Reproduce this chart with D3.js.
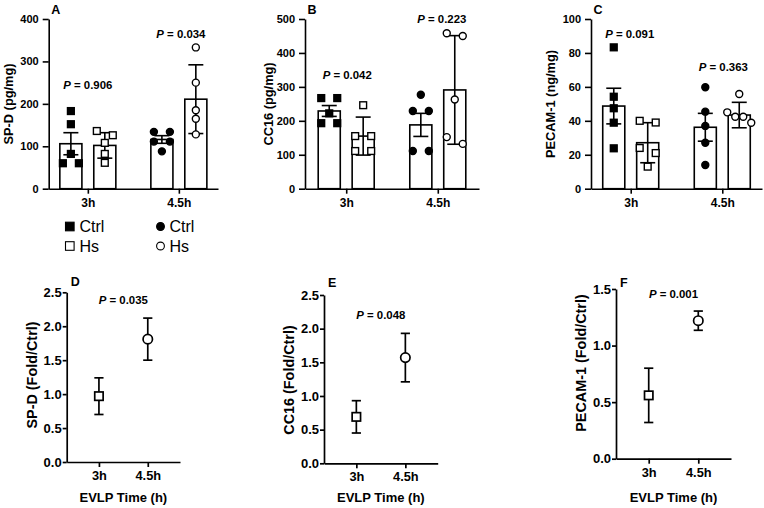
<!DOCTYPE html>
<html>
<head>
<meta charset="utf-8">
<script src="https://cdn.jsdelivr.net/npm/d3@7"></script>
<style>
  body { margin: 0; background: #fff; }
  svg { font-family: "Liberation Sans", Arial, sans-serif; font-weight: bold; }
</style>
</head>
<body>
<svg id="chart" width="764" height="508"></svg>
<script>
// ---- data ----
var groups = ["3h", "4.5h"];
var treatments = ["Ctrl", "Hs"];

// A: SP-D (pg/mg)  -- points per group, bar means, error bars
var spdCtrl = [[183, 152, 82, 60, 60], [134, 134, 111, 111, 88]];
var spdHs = [[136, 126, 108, 82, 61], [333, 250, 185, 165, 128]];
var spdCtrlMean = [106, 116], spdHsMean = [102, 211];
var spdCtrlErr = [26, 9], spdHsErr = [30, 81];
var spdP = ["0.906", "0.034"];

// B: CC16 (pg/mg)
var cc16Ctrl = [[267, 267, 222, 193, 193], [277, 229, 229, 111, 111]];
var cc16Hs = [[246, 155, 155, 111, 111], [458, 450, 263, 152, 132]];
var cc16CtrlMean = [229, 188], cc16HsMean = [155, 291];
var cc16CtrlErr = [16, 34], cc16HsErr = [56, 160];
var cc16P = ["0.042", "0.223"];

// C: PECAM-1 (ng/mg)
var pecamCtrl = [[83.3, 54.2, 47.4, 38.9, 23.8], [59.8, 45.4, 37, 27.1, 14]];
var pecamHs = [[40, 39, 24, 21, 13], [55.8, 45, 42.4, 42.4, 38.9]];
var pecamCtrlMean = [48.7, 36.2], pecamHsMean = [27.1, 43.4];
var pecamCtrlErr = [10.5, 8.2], pecamHsErr = [11.8, 7.5];
var pecamP = ["0.091", "0.363"];

// D-F: fold change (Hs / Ctrl)
var spdFold = [0.97, 1.81], spdFoldErr = [0.27, 0.31], spdFoldP = "0.035";
var cc16Fold = [0.69, 1.57], cc16FoldErr = [0.24, 0.36], cc16FoldP = "0.048";
var pecamFold = [0.56, 1.22], pecamFoldErr = [0.24, 0.085], pecamFoldP = "0.001";

var legendLabels = ["Ctrl", "Hs"];

// ---- drawing ----
var svg = d3.select("#chart");
var ink = "#000";

function pLabel(g, x, y, p) {
  var t = g.append("text")
      .attr("x", x).attr("y", y)
      .attr("text-anchor", "middle")
      .style("font-size", "11.4px")
      .attr("fill", ink);
  t.append("tspan").style("font-style", "italic").text("P");
  t.append("tspan").text(" = " + p);
}

// spread points that sit on top of each other (like Prism scatter)
function swarm(vals, y, d) {
  var s = vals.map(function (v) { return { v: v, py: y(v) }; })
      .sort(function (a, b) { return a.py - b.py; });
  var clusters = [], cur = [];
  s.forEach(function (o, i) {
    if (i > 0 && o.py - s[i - 1].py >= d) { clusters.push(cur); cur = []; }
    cur.push(o);
  });
  clusters.push(cur);
  var out = [];
  clusters.forEach(function (c) {
    var k = c.length, sp = k > 1 ? Math.min(16, 24 / (k - 1)) : 0;
    c.forEach(function (o, j) { out.push({ v: o.v, py: o.py, dx: (j - (k - 1) / 2) * sp }); });
  });
  return out;
}

function drawBarPanel(p) {
  var g = svg.append("g");
  var y = d3.scaleLinear().domain([0, p.max]).range([188.7, 19]);
  var x = d3.scalePoint().domain(groups).range([p.left, p.right]).padding(p.pad);
  var sub = d3.scaleBand().domain(treatments).range([-28, 28]).paddingInner(0.35);

  var rows = [];
  groups.forEach(function (grp, i) {
    rows.push({ grp: grp, trt: "Ctrl", mean: p.ctrlMean[i], err: p.ctrlErr[i], pts: p.ctrl[i] });
    rows.push({ grp: grp, trt: "Hs", mean: p.hsMean[i], err: p.hsErr[i], pts: p.hs[i] });
  });

  // bars
  g.selectAll(".bar").data(rows).enter().append("rect")
      .attr("x", function (d) { return x(d.grp) + sub(d.trt); })
      .attr("y", function (d) { return y(d.mean); })
      .attr("width", sub.bandwidth())
      .attr("height", function (d) { return y(0) - y(d.mean); })
      .attr("fill", "#fff").attr("stroke", ink).attr("stroke-width", 1.6);

  // error bars
  rows.forEach(function (d) {
    var cx = x(d.grp) + sub(d.trt) + sub.bandwidth() / 2;
    var y1 = y(d.mean + d.err), y2 = y(Math.max(0, d.mean - d.err));
    g.append("line").attr("x1", cx).attr("x2", cx).attr("y1", y1).attr("y2", y2)
        .attr("stroke", ink).attr("stroke-width", 1.6);
    [y1, y2].forEach(function (yy) {
      g.append("line").attr("x1", cx - 7.5).attr("x2", cx + 7.5).attr("y1", yy).attr("y2", yy)
          .attr("stroke", ink).attr("stroke-width", 1.6);
    });
  });

  // points
  rows.forEach(function (d) {
    var cx = x(d.grp) + sub(d.trt) + sub.bandwidth() / 2;
    var fill = d.trt === "Ctrl" ? ink : "#fff";
    var pts = swarm(d.pts, y, 7.5);
    if (d.grp === "3h") {
      g.selectAll(null).data(pts).enter().append("rect")
          .attr("x", function (o) { return cx + o.dx - 3.4; })
          .attr("y", function (o) { return o.py - 3.4; })
          .attr("width", 6.8).attr("height", 6.8)
          .attr("fill", fill).attr("stroke", ink).attr("stroke-width", 1.4);
    } else {
      g.selectAll(null).data(pts).enter().append("circle")
          .attr("cx", function (o) { return cx + o.dx; })
          .attr("cy", function (o) { return o.py; })
          .attr("r", 3.5)
          .attr("fill", fill).attr("stroke", ink).attr("stroke-width", 1.4);
    }
  });

  // axes
  var ya = g.append("g").attr("transform", "translate(" + p.left + ",0)")
      .call(d3.axisLeft(y).tickValues(p.ticks).tickSize(6).tickSizeOuter(0).tickPadding(4));
  ya.selectAll("text").style("font-size", "11px").attr("fill", ink);
  var xa = g.append("g").attr("transform", "translate(0,188.7)")
      .call(d3.axisBottom(x).tickSize(5).tickSizeOuter(0).tickPadding(5));
  xa.selectAll("text").style("font-size", "12px").attr("fill", ink);
  g.selectAll(".domain, .tick line").attr("stroke", ink).attr("stroke-width", 1.6);
  g.selectAll(".tick text").attr("font-family", null).attr("font-size", null);

  // axis title
  g.append("text")
      .attr("transform", "translate(" + p.labelX + ",104) rotate(-90)")
      .attr("text-anchor", "middle").attr("dy", "0.35em")
      .style("font-size", "12.8px").attr("fill", ink)
      .text(p.ylabel);

  // panel letter
  g.append("text").attr("x", p.left + 2.5).attr("y", 13.5)
      .style("font-size", "12.5px").attr("fill", ink).text(p.letter);

  // p values
  groups.forEach(function (grp, i) {
    pLabel(g, x(grp) + p.pdx[i], y(p.pY[i]), p.pvals[i]);
  });
}

function drawFoldPanel(p) {
  var g = svg.append("g");
  var y = d3.scaleLinear().domain([0, p.max]).range([p.bottom, p.top]);
  var x = d3.scalePoint().domain(groups).range([p.left, p.right]).padding(0.66);

  groups.forEach(function (grp, i) {
    var cx = x(grp), m = p.vals[i], e = p.errs[i];
    var y1 = y(m + e), y2 = y(m - e);
    g.append("line").attr("x1", cx).attr("x2", cx).attr("y1", y1).attr("y2", y2)
        .attr("stroke", ink).attr("stroke-width", 1.7);
    [y1, y2].forEach(function (yy) {
      g.append("line").attr("x1", cx - 4.6).attr("x2", cx + 4.6).attr("y1", yy).attr("y2", yy)
          .attr("stroke", ink).attr("stroke-width", 1.7);
    });
    if (grp === "3h") {
      g.append("rect").attr("x", cx - 4.2).attr("y", y(m) - 4.2)
          .attr("width", 8.4).attr("height", 8.4)
          .attr("fill", "#fff").attr("stroke", ink).attr("stroke-width", 1.7);
    } else {
      g.append("circle").attr("cx", cx).attr("cy", y(m)).attr("r", 4.7)
          .attr("fill", "#fff").attr("stroke", ink).attr("stroke-width", 1.7);
    }
  });

  var ya = g.append("g").attr("transform", "translate(" + p.left + ",0)")
      .call(d3.axisLeft(y).tickValues(p.ticks).tickFormat(d3.format(".1f"))
        .tickSize(4).tickSizeOuter(0).tickPadding(1));
  ya.selectAll("text").style("font-size", "13px").attr("fill", ink);
  var xa = g.append("g").attr("transform", "translate(0," + p.bottom + ")")
      .call(d3.axisBottom(x).tickSize(5).tickSizeOuter(0).tickPadding(4));
  xa.selectAll("text").style("font-size", "12.8px").attr("fill", ink);
  g.selectAll(".domain, .tick line").attr("stroke", ink).attr("stroke-width", 1.7);
  g.selectAll(".tick text").attr("font-family", null).attr("font-size", null);

  g.append("text")
      .attr("transform", "translate(" + p.labelX + "," + p.labelY + ") rotate(-90)")
      .attr("text-anchor", "middle").attr("dy", "0.35em")
      .style("font-size", "14.4px").attr("fill", ink)
      .text(p.ylabel);

  g.append("text")
      .attr("x", (p.left + p.right) / 2).attr("y", 502)
      .attr("text-anchor", "middle")
      .style("font-size", "13px").attr("fill", ink)
      .text("EVLP Time (h)");

  g.append("text").attr("x", p.left + 4).attr("y", p.letterY)
      .style("font-size", "12.5px").attr("fill", ink).text(p.letter);

  pLabel(g, (x("3h") + x("4.5h")) / 2, y(p.pY), p.pval);
}

drawBarPanel({
  letter: "A", ylabel: "SP-D (pg/mg)", left: 48.7, right: 218, pad: 0.43, labelX: 9,
  max: 400, ticks: [0, 100, 200, 300, 400],
  ctrl: spdCtrl, hs: spdHs, ctrlMean: spdCtrlMean, hsMean: spdHsMean,
  ctrlErr: spdCtrlErr, hsErr: spdHsErr, pvals: spdP, pY: [235, 356], pdx: [0, 2]
});
drawBarPanel({
  letter: "B", ylabel: "CC16 (pg/mg)", left: 305, right: 479, pad: 0.45, labelX: 269,
  max: 500, ticks: [0, 100, 200, 300, 400, 500],
  ctrl: cc16Ctrl, hs: cc16Hs, ctrlMean: cc16CtrlMean, hsMean: cc16HsMean,
  ctrlErr: cc16CtrlErr, hsErr: cc16HsErr, pvals: cc16P, pY: [323, 488], pdx: [1, 4]
});
drawBarPanel({
  letter: "C", ylabel: "PECAM-1 (ng/mg)", left: 591, right: 762, pad: 0.434, labelX: 551,
  max: 100, ticks: [0, 20, 40, 60, 80, 100],
  ctrl: pecamCtrl, hs: pecamHs, ctrlMean: pecamCtrlMean, hsMean: pecamHsMean,
  ctrlErr: pecamCtrlErr, hsErr: pecamHsErr, pvals: pecamP, pY: [88.8, 69.4], pdx: [-1, 1]
});

drawFoldPanel({
  letter: "D", ylabel: "SP-D (Fold/Ctrl)", left: 66.7, right: 180, top: 292.3, bottom: 462,
  max: 2.5, ticks: [0, 0.5, 1, 1.5, 2, 2.5], labelX: 31.7, labelY: 375, letterY: 286,
  vals: spdFold, errs: spdFoldErr, pval: spdFoldP, pY: 2.33
});
drawFoldPanel({
  letter: "E", ylabel: "CC16 (Fold/Ctrl)", left: 324, right: 437.7, top: 295, bottom: 463.3,
  max: 2.5, ticks: [0, 0.5, 1, 1.5, 2, 2.5], labelX: 288.7, labelY: 380, letterY: 287.3,
  vals: cc16Fold, errs: cc16FoldErr, pval: cc16FoldP, pY: 2.14
});
drawFoldPanel({
  letter: "F", ylabel: "PECAM-1 (Fold/Ctrl)", left: 616, right: 731, top: 289, bottom: 458.7,
  max: 1.5, ticks: [0, 0.5, 1, 1.5], labelX: 581, labelY: 363, letterY: 286.7,
  vals: pecamFold, errs: pecamFoldErr, pval: pecamFoldP, pY: 1.417
});

// legend: square = 3h, circle = 4.5h; filled = Ctrl, open = Hs
var legend = svg.append("g");
legendLabels.forEach(function (lab, i) {
  var fill = lab === "Ctrl" ? ink : "#fff";
  var cy = 226.5 + i * 19.5;
  legend.append("rect").attr("x", 65.5).attr("y", cy - 4.3).attr("width", 8.6).attr("height", 8.6)
      .attr("fill", fill).attr("stroke", ink).attr("stroke-width", 1.1);
  legend.append("text").attr("x", 79.5).attr("y", cy).attr("dy", "0.36em")
      .style("font-size", "16px").style("font-weight", "normal").attr("fill", ink).text(lab);
  legend.append("circle").attr("cx", 160.5).attr("cy", cy).attr("r", 3.9)
      .attr("fill", fill).attr("stroke", ink).attr("stroke-width", 1.1);
  legend.append("text").attr("x", 169.5).attr("y", cy).attr("dy", "0.36em")
      .style("font-size", "16px").style("font-weight", "normal").attr("fill", ink).text(lab);
});
</script>
</body>
</html>
